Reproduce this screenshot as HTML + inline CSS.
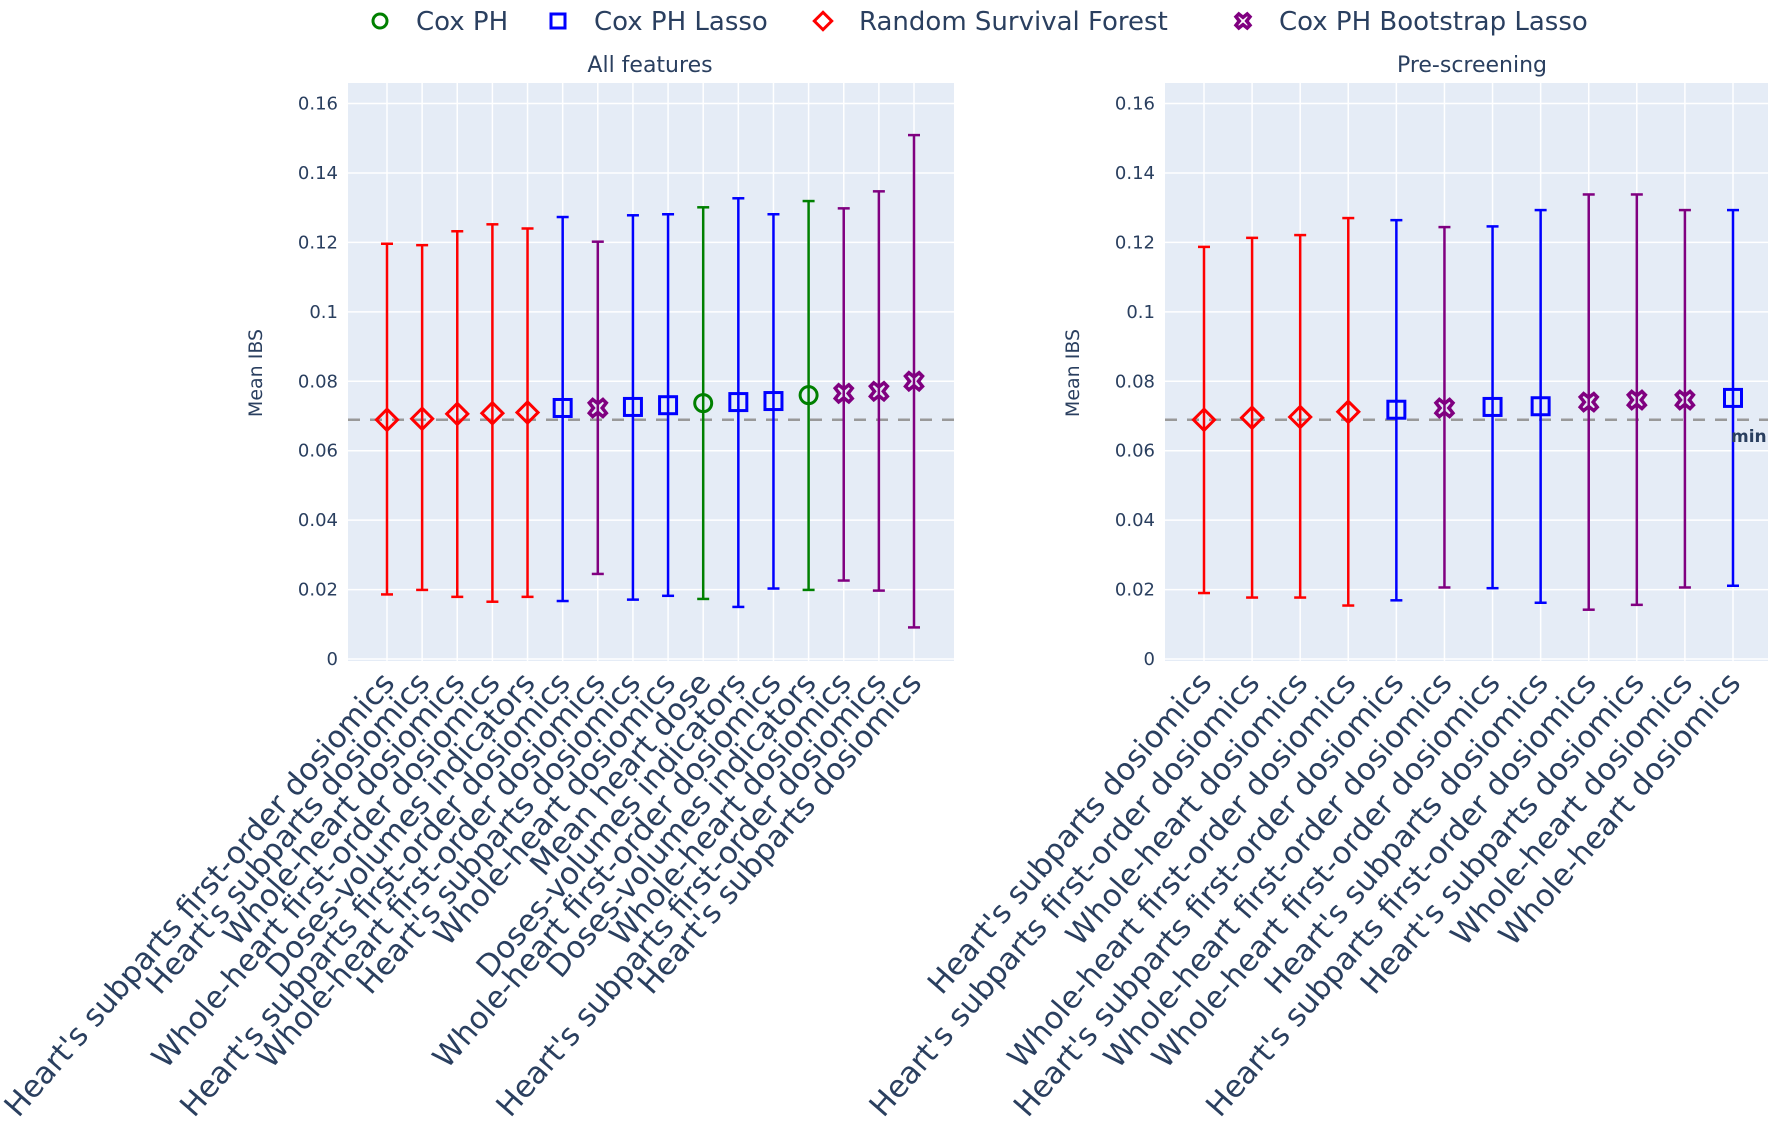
<!DOCTYPE html>
<html><head><meta charset="utf-8"><style>
html,body{margin:0;padding:0;background:#fff;}
svg{display:block;font-family:"DejaVu Sans","Liberation Sans",sans-serif;}
</style></head><body>
<svg id="chart" width="1772" height="1144" viewBox="0 0 1772 1144" xmlns="http://www.w3.org/2000/svg"></svg>
<script>
const leftCategories = ["Heart's subparts first-order dosiomics","Heart's subparts dosiomics","Whole-heart dosiomics","Whole-heart first-order dosiomics","Doses-volumes indicators","Heart's subparts first-order dosiomics","Whole-heart first-order dosiomics","Heart's subparts dosiomics","Whole-heart dosiomics","Mean heart dose","Doses-volumes indicators","Whole-heart first-order dosiomics","Doses-volumes indicators","Whole-heart dosiomics","Heart's subparts first-order dosiomics","Heart's subparts dosiomics"];
const leftModels = ["rsf","rsf","rsf","rsf","rsf","lasso","boot","lasso","lasso","cox","lasso","lasso","cox","boot","boot","boot"];
const leftMeans = [0.0689,0.0692,0.0706,0.0708,0.0710,0.0723,0.0723,0.0726,0.0731,0.0737,0.0740,0.0743,0.0760,0.0765,0.0771,0.0800];
const leftUpper = [0.1196,0.1192,0.1232,0.1252,0.1240,0.1273,0.1202,0.1278,0.1281,0.1301,0.1327,0.1281,0.1319,0.1298,0.1347,0.1509];
const leftLower = [0.0186,0.0199,0.0179,0.0165,0.0179,0.0167,0.0245,0.0171,0.0182,0.0173,0.0150,0.0203,0.0199,0.0226,0.0197,0.0091];
const rightCategories = ["Heart's subparts dosiomics","Heart's subparts first-order dosiomics","Whole-heart dosiomics","Whole-heart first-order dosiomics","Heart's subparts first-order dosiomics","Whole-heart first-order dosiomics","Whole-heart first-order dosiomics","Heart's subparts dosiomics","Heart's subparts first-order dosiomics","Heart's subparts dosiomics","Whole-heart dosiomics","Whole-heart dosiomics"];
const rightModels = ["rsf","rsf","rsf","rsf","lasso","boot","lasso","lasso","boot","boot","boot","lasso"];
const rightMeans = [0.0689,0.0695,0.0697,0.0712,0.0718,0.0723,0.0726,0.0728,0.0740,0.0746,0.0746,0.0752];
const rightUpper = [0.1187,0.1213,0.1221,0.1270,0.1264,0.1244,0.1246,0.1293,0.1338,0.1338,0.1293,0.1293];
const rightLower = [0.0190,0.0177,0.0177,0.0154,0.0169,0.0206,0.0204,0.0162,0.0142,0.0156,0.0206,0.0211];
const minLine = 0.0689;
const yTicks = [0,0.02,0.04,0.06,0.08,0.1,0.12,0.14,0.16];
const yTickLabels = ["0","0.02","0.04","0.06","0.08","0.1","0.12","0.14","0.16"];
const legendKeys = ["cox","lasso","rsf","boot"];
const legendNames = ["Cox PH","Cox PH Lasso","Random Survival Forest","Cox PH Bootstrap Lasso"];

const colors = {cox:"#008000",lasso:"#0000ff",rsf:"#ff0000",boot:"#800080"};
const NS = "http://www.w3.org/2000/svg";
const svg = document.getElementById('chart');
function mk(tag, attrs, parent){const e=document.createElementNS(NS,tag);for(const k in attrs)e.setAttribute(k,attrs[k]);(parent||svg).appendChild(e);return e;}

function marker(g, kind, x, y, s){
  const c = colors[kind]; let e;
  if(kind==='cox'){ e=mk('circle',{cx:x,cy:y,r:s*0.5,fill:'none',stroke:c,'stroke-width':3},g); }
  else if(kind==='lasso'){ e=mk('rect',{x:x-s/2,y:y-s/2,width:s,height:s,fill:'none',stroke:c,'stroke-width':3},g); }
  else if(kind==='rsf'){ const r=s*0.62; e=mk('polygon',{points:`${x},${y-r} ${x+r},${y} ${x},${y+r} ${x-r},${y}`,fill:'none',stroke:c,'stroke-width':3},g); }
  else { const a=s*0.5,b=s*0.2; e=mk('path',{d:`M${x-a+b} ${y-a} L${x} ${y-a+b*1.2} L${x+a-b} ${y-a} L${x+a} ${y-a+b} L${x+a-b*1.2} ${y} L${x+a} ${y+a-b} L${x+a-b} ${y+a} L${x} ${y+a-b*1.2} L${x-a+b} ${y+a} L${x-a} ${y+a-b} L${x-a+b*1.2} ${y} L${x-a} ${y-a+b} Z`,fill:'none',stroke:c,'stroke-width':3.5},g); }
  return e;
}

function panel(cfg){
  const g = mk('g',{});
  
  
  const yS = v => 659 - v/0.16*(659-103.5);
  const n = cfg.cats.length;
  const xS = i => cfg.x0 + i*(cfg.x1-cfg.x0)/(n-1);
  const bg = mk('rect',{x:cfg.L,y:83,width:cfg.R-cfg.L,height:578,fill:'#e5ecf6'},g);
  
  
  yTicks.forEach((t,i)=>{
    const yy=yS(t);
    const gl = mk('line',{x1:cfg.L,x2:cfg.R,y1:yy,y2:yy,stroke:'#fff','stroke-width':1.5},g);
    
    
    const tl = mk('text',{x:cfg.L-10,y:yy+6,'text-anchor':'end','font-size':18,fill:'#2a3f5f'},g);
    tl.textContent = yTickLabels[i];
    
    
  });
  for(let i=0;i<n;i++){
    const gl = mk('line',{x1:xS(i),x2:xS(i),y1:83,y2:661,stroke:'#fff','stroke-width':1.5},g);
    
    
  }
  const yt = mk('text',{x:0,y:0,transform:`translate(${cfg.yt},373) rotate(-90)`,'text-anchor':'middle','font-size':19,fill:'#2a3f5f'},g);
  yt.textContent='Mean IBS';
  
  
  const ttl = mk('text',{x:cfg.tx,y:72,'text-anchor':'middle','font-size':22,fill:'#2a3f5f'},g);
  ttl.textContent=cfg.title;
  
  
  const ml = mk('line',{x1:cfg.L,x2:cfg.R,y1:yS(minLine),y2:yS(minLine),stroke:'#999','stroke-width':2.5,'stroke-dasharray':'12,10'},g);
  
  
  for(let i=0;i<n;i++){
    const k=cfg.models[i], c=colors[k], x=xS(i);
    const eg = mk('g',{},g);
    
    
    mk('line',{x1:x,x2:x,y1:yS(cfg.up[i]),y2:yS(cfg.lo[i]),stroke:c,'stroke-width':2.5},eg);
    mk('line',{x1:x-6,x2:x+6,y1:yS(cfg.up[i]),y2:yS(cfg.up[i]),stroke:c,'stroke-width':2.5},eg);
    mk('line',{x1:x-6,x2:x+6,y1:yS(cfg.lo[i]),y2:yS(cfg.lo[i]),stroke:c,'stroke-width':2.5},eg);
    const m = marker(g,k,x,yS(cfg.means[i]),17);
    
    
    const lb = mk('text',{x:0,y:0,transform:`translate(${x+9},${684}) rotate(-49)`,'text-anchor':'end','font-size':30.5,fill:'#2a3f5f'},g);
    lb.textContent = cfg.cats[i];
    
    
  }
  return yS;
}
panel({name:'all-features-panel',title:'All features',cats:leftCategories,models:leftModels,means:leftMeans,up:leftUpper,lo:leftLower,L:348,R:954,x0:387,x1:914,yt:262,tx:650});
const yS2 = panel({name:'pre-screening-panel',title:'Pre-screening',cats:rightCategories,models:rightModels,means:rightMeans,up:rightUpper,lo:rightLower,L:1165,R:1768,x0:1204,x1:1733,yt:1079,tx:1472});
const minT = mk('text',{x:1731,y:yS2(minLine)+22,'font-size':17,'font-weight':'bold',fill:'#2a3f5f'});
minT.textContent='min';



const legendMarkX = [380,558,823,1243];
const lg = mk('g',{});


legendKeys.forEach((k,i)=>{
  const eg = mk('g',{},lg);
  
  
  marker(eg,k,legendMarkX[i],21,14);
  const t = mk('text',{x:legendMarkX[i]+36,y:30,'font-size':26,fill:'#2a3f5f'},eg);
  t.textContent = legendNames[i];
});
</script>
</body></html>
